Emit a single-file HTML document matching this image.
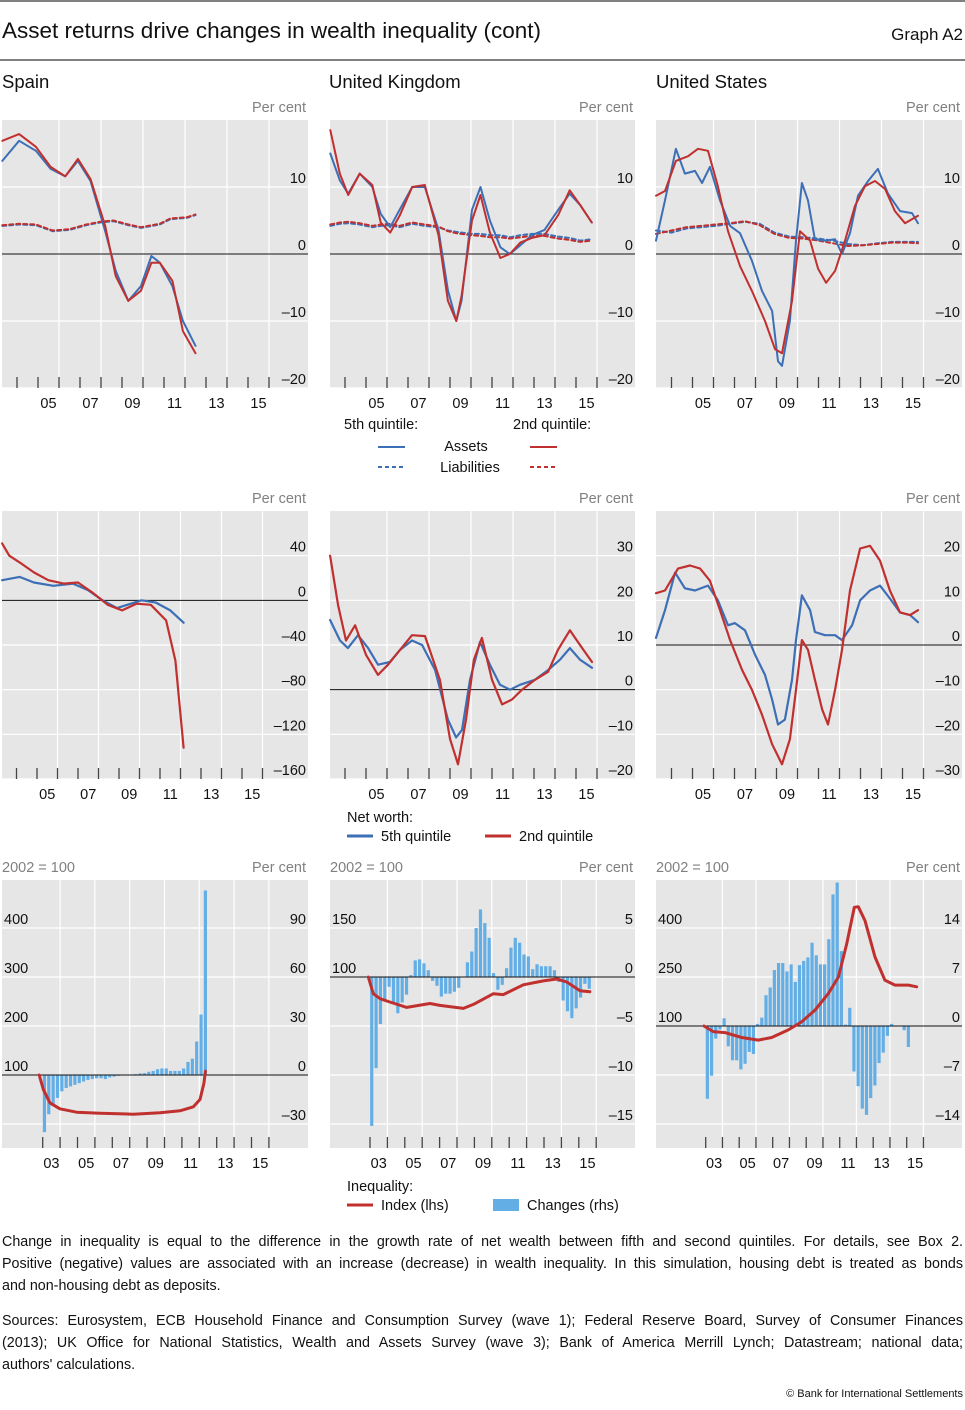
<!DOCTYPE html>
<html><head><meta charset="utf-8">
<style>
html,body{margin:0;padding:0;background:#fff;}
body{width:965px;height:1410px;position:relative;overflow:hidden;font-family:"Liberation Sans",sans-serif;}
svg{position:absolute;left:0;top:0;}
.fn{position:absolute;left:2px;width:961px;font-size:14.3px;color:#111;text-align:justify;text-align-last:justify;white-space:nowrap;}
.fn.last{text-align-last:left;}
</style></head>
<body>
<svg id="chart" width="965" height="1410" viewBox="0 0 965 1410">
  <line x1="0" y1="1" x2="965" y2="1" stroke="#000" stroke-width="1"/>
  <text x="2" y="38" font-size="22.5" fill="#111">Asset returns drive changes in wealth inequality (cont)</text>
  <text x="963" y="40" font-size="17" fill="#111" text-anchor="end">Graph A2</text>
  <line x1="0" y1="60" x2="965" y2="60" stroke="#000" stroke-width="1"/>
  <text x="2" y="88" font-size="18.5" fill="#111">Spain</text>
  <text x="329" y="88" font-size="18.5" fill="#111">United Kingdom</text>
  <text x="656" y="88" font-size="18.5" fill="#111">United States</text>

  <g>
    <text x="344" y="429" font-size="14.5" fill="#111">5th quintile:</text>
    <text x="513" y="429" font-size="14.5" fill="#111">2nd quintile:</text>
    <line x1="378" y1="447" x2="405" y2="447" stroke="#3d6fb6" stroke-width="2"/>
    <line x1="530" y1="447" x2="557" y2="447" stroke="#c0302f" stroke-width="2"/>
    <text x="466" y="451" font-size="14.5" fill="#111" text-anchor="middle">Assets</text>
    <line x1="378" y1="467" x2="405" y2="467" stroke="#3d6fb6" stroke-width="2" stroke-dasharray="4,3"/>
    <line x1="530" y1="467" x2="557" y2="467" stroke="#c0302f" stroke-width="2" stroke-dasharray="4,3"/>
    <text x="470" y="472" font-size="14.5" fill="#111" text-anchor="middle">Liabilities</text>
  </g>
  <g>
    <text x="347" y="822" font-size="14.5" fill="#111">Net worth:</text>
    <line x1="347" y1="836" x2="373" y2="836" stroke="#3d6fb6" stroke-width="3"/>
    <text x="381" y="841" font-size="14.5" fill="#111">5th quintile</text>
    <line x1="485" y1="836" x2="511" y2="836" stroke="#c0302f" stroke-width="3"/>
    <text x="519" y="841" font-size="14.5" fill="#111">2nd quintile</text>
  </g>
  <g>
    <text x="347" y="1191" font-size="14.5" fill="#111">Inequality:</text>
    <line x1="347" y1="1205" x2="373" y2="1205" stroke="#c0302f" stroke-width="3"/>
    <text x="381" y="1210" font-size="14.5" fill="#111">Index (lhs)</text>
    <rect x="493" y="1199" width="26" height="12" fill="#64aee6"/>
    <text x="527" y="1210" font-size="14.5" fill="#111">Changes (rhs)</text>
  </g>
  <text x="963" y="1397" font-size="11" fill="#111" text-anchor="end">© Bank for International Settlements</text>
</svg>

<div class="fn" style="top:1234px">Change in inequality is equal to the difference in the growth rate of net wealth between fifth and second quintiles. For details, see Box 2.</div>
<div class="fn" style="top:1256px">Positive (negative) values are associated with an increase (decrease) in wealth inequality. In this simulation, housing debt is treated as bonds</div>
<div class="fn last" style="top:1278px">and non-housing debt as deposits.</div>
<div class="fn" style="top:1313px">Sources: Eurosystem, ECB Household Finance and Consumption Survey (wave 1); Federal Reserve Board, Survey of Consumer Finances</div>
<div class="fn" style="top:1335px">(2013); UK Office for National Statistics, Wealth and Assets Survey (wave 3); Bank of America Merrill Lynch; Datastream; national data;</div>
<div class="fn last" style="top:1357px">authors' calculations.</div>

<script>
const esAssT = [2003.3,2004.1,2004.9,2005.6,2006.3,2006.9,2007.5,2008.2,2008.7,2009.3,2009.9,2010.4,2010.8,2011.4,2011.9,2012.5];
const esAss5 = [13.9,16.9,15.4,12.7,11.6,13.9,10.9,3.4,-2.5,-7,-4.8,-0.3,-1.3,-4.8,-10,-13.7];
const esAss2 = [16.9,17.9,16,13,11.6,14.2,11.2,4.2,-3.3,-7,-5.5,-1.3,-1.3,-4,-11.5,-14.8];
const esLiaT = [2003.3,2004.1,2004.9,2005.7,2006.5,2007.3,2007.95,2008.6,2009.3,2009.9,2010.8,2011.3,2012.1,2012.5];
const esLia5 = [4.2,4.4,4.3,3.4,3.6,4.3,4.7,4.9,4.3,3.9,4.4,5.2,5.4,5.8];
const esLia2 = [4.3,4.5,4.4,3.5,3.7,4.4,4.8,5.0,4.4,4.0,4.5,5.3,5.5,5.9];

const ukAssT = [2003.3,2003.75,2004.15,2004.7,2005.3,2005.7,2006.15,2006.6,2007.2,2007.8,2008.45,2008.9,2009.3,2009.55,2010.05,2010.45,2010.9,2011.4,2011.85,2012.35,2012.9,2013.5,2014.15,2014.7,2015.2,2015.75];
const ukAss5 = [15,11,9,12,10,6,4,6.6,10,10,3.6,-5.4,-10,-7,6.6,10,5,1,0,1.3,2.8,3.6,6.6,9,7.3,4.7];
const ukAss2 = [18.5,12,8.8,12,10.3,4.7,3.2,5.7,10,10.3,2.8,-7,-10,-6.3,5,8.8,3.2,-0.6,0,1.7,2.4,2.8,5.8,9.5,7.3,4.7];
const ukLia5 = [4.2,4.5,4.6,4.4,4.0,4.2,4.3,4.0,4.5,4.2,4.0,3.5,3.3,3.2,3.0,3.0,2.8,2.8,2.5,2.8,3.0,3.0,2.6,2.4,2.0,2.2];
const ukLia2 = [4.4,4.7,4.8,4.6,4.2,4.4,4.5,4.2,4.7,4.4,4.1,3.4,3.1,3.0,2.8,2.7,2.5,2.5,2.3,2.5,2.7,2.7,2.3,2.1,1.8,2.0];

const usAss5T = [2003.26,2003.69,2004.21,2004.64,2005.12,2005.45,2005.83,2006.31,2006.79,2007.26,2007.83,2008.31,2008.79,2009.07,2009.26,2009.64,2009.93,2010.21,2010.5,2010.83,2011.31,2011.79,2012.12,2012.5,2012.88,2013.36,2013.83,2014.31,2014.88,2015.45,2015.74];
const usAss5 = [2,8,15.7,12,12.4,10.6,13,8,4.2,3.1,-1,-5.5,-8.5,-16,-16.7,-10,2,10.6,8,2.2,2,2.2,0,3.1,8.7,10.9,12.7,9,6.4,6.1,4.6];
const usAss2T = [2003.26,2003.69,2004.21,2004.79,2005.26,2005.74,2006.21,2006.69,2007.26,2007.83,2008.45,2008.93,2009.26,2009.74,2010.12,2010.6,2010.98,2011.36,2011.79,2012.26,2012.74,2013.21,2013.69,2014.17,2014.64,2015.12,2015.74];
const usAss2 = [8.7,9.4,13.9,14.6,15.7,15.4,10.1,3.4,-1.8,-5.5,-10,-14.2,-14.8,-7,3.4,2,-2.2,-4.3,-2.5,2,7.2,10.1,10.9,9.7,6.4,4.6,5.7];
const usLiaT = [2003.26,2004,2004.7,2005.4,2006.1,2006.8,2007.5,2008.2,2008.9,2009.6,2010.3,2011,2011.7,2012.4,2013.1,2013.8,2014.5,2015.2,2015.74];
const usLia5 = [3.5,3.2,3.8,4.0,4.2,4.5,4.8,4.5,3.2,2.6,2.5,2.3,2.0,1.5,1.3,1.6,1.8,1.8,1.8];
const usLia2 = [3.0,3.5,4.0,4.2,4.4,4.6,4.9,4.3,3.0,2.4,2.3,2.0,1.6,1.2,1.3,1.5,1.7,1.7,1.6];

const esNw5T = [2003.3,2004.15,2004.85,2005.8,2006.75,2007.5,2008.2,2008.9,2009.4,2010.1,2010.8,2011.5,2012.15];
const esNw5 = [18,21,16,13,15,9,0,-7,-4,0,-2,-9,-20];
const esNw2T = [2003.3,2003.65,2004.15,2004.85,2005.55,2006.3,2007,2007.7,2008.45,2009.15,2009.85,2010.55,2011.3,2011.75,2012.15];
const esNw2 = [51,40,34,25,18,15,16,7,-4,-9,-3,-4,-18,-54,-132];

const ukNw5T = [2003.29,2003.76,2004.14,2004.62,2005.1,2005.57,2006.14,2006.62,2007.19,2007.67,2008.29,2008.9,2009.29,2009.57,2009.95,2010.43,2010.9,2011.38,2011.86,2012.33,2013.05,2013.67,2014.24,2014.71,2015.19,2015.76];
const ukNw5 = [15.6,11,9.3,12.2,9.3,5.6,6.2,8.9,11,10,4.4,-6.7,-10.7,-9,2.2,10.7,5.6,1.1,0,1.1,2.2,4.4,6.7,9.3,6.7,4.9];
const ukNw2T = [2003.29,2003.67,2004.05,2004.48,2005,2005.57,2006.05,2006.62,2007.19,2007.81,2008.52,2009,2009.38,2009.76,2010.14,2010.52,2011,2011.48,2011.95,2012.43,2013.05,2013.67,2014.14,2014.71,2015.19,2015.76];
const ukNw2 = [30,18.9,11,14.4,7.8,3.3,5.6,8.9,12.2,12,2.2,-11,-16.7,-6.7,6.7,11.6,2.2,-3.3,-2.2,0,2.2,4,8.9,13.3,10,6.2];

const usNw5T = [2003.26,2003.69,2004.17,2004.64,2005.12,2005.74,2006.21,2006.69,2007.02,2007.5,2007.98,2008.45,2008.79,2009.07,2009.4,2009.74,2009.93,2010.21,2010.6,2010.83,2011.31,2011.79,2012.12,2012.6,2012.98,2013.45,2013.93,2014.4,2014.88,2015.36,2015.74];
const usNw5 = [1.6,7.8,16.2,12.7,12.2,13.3,10,4.4,4.9,3.3,-2.2,-6.7,-12.2,-17.8,-16.7,-7.8,1.1,11.1,7.8,2.9,2.2,2.2,1.1,4.4,10,12.2,13.3,10.4,7.3,6.7,5.1];
const usNw2T = [2003.26,2003.69,2004.31,2004.88,2005.36,2005.83,2006.31,2006.79,2007.36,2007.83,2008.31,2008.79,2009.26,2009.64,2009.93,2010.21,2010.5,2010.83,2011.17,2011.45,2011.79,2012.12,2012.5,2012.98,2013.45,2013.93,2014.4,2014.88,2015.36,2015.74];
const usNw2 = [11.6,12.2,17.1,17.8,17.1,14.4,7.8,1.1,-5.6,-10,-15.6,-22.2,-26.7,-21.1,-10,1.1,-1.1,-7.8,-14.4,-17.8,-10,-1.1,12.2,21.6,22.2,18.9,12.2,7.3,6.7,7.8];

const esIdxT = [2002.8,2003.04,2003.42,2003.99,2004.95,2006.29,2008.2,2009.74,2010.89,2011.66,2012.04,2012.27,2012.35];
const esIdx = [100,70,43,31,24,22,20,23,27,35,50,84,108];
const esChgStart = 2003.1;
const esChg = [-35,-24,-19,-14,-10,-8,-7,-6,-5,-4,-3,-2.5,-2,-2,-2.5,-1.5,-1,-0.5,0,0,0,0.5,1,1.2,2,2.5,3.5,4,4,2.5,2.5,2.5,4,8,10,20.5,37,113];

const ukIdxT = [2002.9,2003.19,2003.57,2004.05,2005.11,2006.45,2007.02,2008.36,2008.94,2010.09,2010.66,2011.81,2012.96,2013.73,2014.3,2015.07,2015.64];
const ukIdx = [100,83,78,75,69,73,71,68,72,83,82,92,96,98,95,86,85];
const ukChgStart = 2003.1;
const ukChg = [-15.2,-9.3,-4.8,-2.3,-1,-2.7,-3.7,-2.6,-1.8,0.2,1.7,1.8,1.4,0.7,-0.4,-0.9,-2,-1.7,-1.7,-1.5,-1.1,0,1.5,2.6,5,6.9,5.5,4,0.4,-1.3,-0.8,0.9,3,4,3.5,2.3,2.1,0.8,1.3,1.1,1.1,1.1,0.7,-0.5,-2.4,-3.5,-4.2,-3.2,-2.1,-0.7,-1.2];

const usIdxT = [2002.9,2003.45,2004.15,2005.15,2006.14,2006.94,2007.93,2008.73,2009.53,2010.32,2010.92,2011.42,2011.87,2012.11,2012.51,2013.11,2013.7,2014.3,2015.1,2015.6];
const usIdx = [100,83,80,65,57,65,88,113,149,199,250,351,463,465,422,311,240,225,225,220];
const usChgStart = 2003.1;
const usChg = [-10.4,-7.1,-1.8,-0.5,1.1,-2.9,-4.9,-4.9,-6.2,-5.4,-3.7,-4,0.3,1.2,4.4,5.5,8,9,9,7.8,8.8,6.3,8.7,9.3,9.8,11.9,10.1,8.8,8.8,12.4,18.8,20.5,10.7,0.2,2.6,-6.5,-8.6,-11.8,-12.7,-10.3,-8.5,-5.3,-3.8,-1.4,0.3,0,0,-0.6,-3];

const row1Ticks = [10,0,-10,-20];
const esRow2Ticks = [40,0,-40,-80,-120,-160];
const ukRow2Ticks = [30,20,10,0,-10,-20];
const usRow2Ticks = [20,10,0,-10,-20,-30];
const esRow3Right = [90,60,30,0,-30];
const esRow3Left = [400,300,200,100];
const ukRow3Right = [5,0,-5,-10,-15];
const ukRow3Left = [150,100];
const usRow3Right = [14,7,0,-7,-14];
const usRow3Left = [400,250,100];
const yearLabelsA = [2005,2007,2009,2011,2013,2015];
const yearLabelsB = [2003,2005,2007,2009,2011,2013,2015];

const NS = 'http://www.w3.org/2000/svg';
const svg = document.getElementById('chart');
const BLUE = '#3d6fb6', RED = '#c0302f', BAR = '#64aee6';

function el(tag, attrs, parent) {
  const e = document.createElementNS(NS, tag);
  for (const k in attrs) e.setAttribute(k, attrs[k]);
  (parent || svg).appendChild(e);
  return e;
}
function fmt(v) { return v < 0 ? '\u2013' + Math.abs(v) : String(v); }

function makePanel(p) {
  const g = el('g', {});
  
  
  p.g = g;
  p.X = t => p.x0 + (t - p.yr0) * p.ppy;
  p.Y = v => p.B - (v - p.min) / (p.max - p.min) * (p.B - p.T);
  if (p.lmin !== undefined) p.YL = v => p.B - (v - p.lmin) / (p.lmax - p.lmin) * (p.B - p.T);
  const bg = el('rect', {x: p.L, y: p.T, width: p.R - p.L, height: p.B - p.T, fill: '#e6e6e6'}, g);
  
  
  for (let y = p.gridFrom; y <= 2016; y += 2) {
    const x = p.X(y);
    if (x <= p.L || x >= p.R) continue;
    const gl = el('line', {x1: x, x2: x, y1: p.T, y2: p.B, stroke: '#fff', 'stroke-width': 1.2}, g);
    
    
  }
  p.ticks.forEach(v => {
    const y = p.Y(v);
    if (v !== 0) {
      const hl = el('line', {x1: p.L, x2: p.R, y1: y, y2: y, stroke: '#fff', 'stroke-width': 1.2}, g);
      
      
    }
    const tx = el('text', {x: p.R - 2, y: y - 4, 'font-size': 14.5, fill: '#111', 'text-anchor': 'end'}, g);
    tx.textContent = fmt(v);
    
    
  });
  if (p.lticks) p.lticks.forEach(v => {
    const tx = el('text', {x: p.L + 2, y: p.YL(v) - 4, 'font-size': 14.5, fill: '#111'}, g);
    tx.textContent = String(v);
    
    
  });
  for (let y = p.tickFrom; y <= 2016; y++) {
    const x = p.X(y);
    const tk = el('line', {x1: x, x2: x, y1: p.B - 11, y2: p.B, stroke: '#444', 'stroke-width': 1.3}, g);
    
    
  }
  p.xlabels.forEach(yr => {
    const tx = el('text', {x: p.X(yr + 0.5), y: p.B + 20, 'font-size': 14.5, fill: '#111', 'text-anchor': 'middle'}, g);
    tx.textContent = String(yr % 100).padStart(2, '0');
    
    
  });
  const pc = el('text', {x: p.R - 2, y: p.T - 8, 'font-size': 14.5, fill: '#808080', 'text-anchor': 'end'}, g);
  pc.textContent = 'Per cent';
  
  
  if (p.lticks) {
    const lb = el('text', {x: p.L, y: p.T - 8, 'font-size': 14.5, fill: '#808080'}, g);
    lb.textContent = '2002 = 100';
    
    
  }
  return p;
}
function zeroLine(p) {
  const z = el('line', {x1: p.L, x2: p.R, y1: p.Y(0), y2: p.Y(0), stroke: '#111', 'stroke-width': 1}, p.g);
  
  
}
function series(p, ts, vs, color, w, dash, name, left) {
  const yf = left ? p.YL : p.Y;
  const d = ts.map((t, i) => (i ? 'L' : 'M') + p.X(t).toFixed(1) + ',' + yf(vs[i]).toFixed(1)).join(' ');
  const path = el('path', {d: d, fill: 'none', stroke: color, 'stroke-width': w, 'stroke-linejoin': 'round', 'stroke-linecap': 'round'}, p.g);
  if (dash) path.setAttribute('stroke-dasharray', dash);
  
  
}
function bars(p, start, vals, name) {
  vals.forEach((v, i) => {
    const x = p.X(start + i * 0.25);
    const y0 = p.Y(0), y1 = p.Y(v);
    const r = el('rect', {x: x - 1.6, y: Math.min(y0, y1), width: 3.2, height: Math.abs(y1 - y0), fill: BAR}, p.g);
    
    
  });
}

const p1 = makePanel({name: 'spain-returns-panel', L: 2, R: 308, T: 120, B: 388, yr0: 2005, x0: 38, ppy: 21, min: -20, max: 20, ticks: row1Ticks, gridFrom: 2006, tickFrom: 2004, xlabels: yearLabelsA});
const p2 = makePanel({name: 'uk-returns-panel', L: 330, R: 635, T: 120, B: 388, yr0: 2005, x0: 366, ppy: 21, min: -20, max: 20, ticks: row1Ticks, gridFrom: 2006, tickFrom: 2004, xlabels: yearLabelsA});
const p3 = makePanel({name: 'us-returns-panel', L: 656, R: 962, T: 120, B: 388, yr0: 2005, x0: 692.5, ppy: 21, min: -20, max: 20, ticks: row1Ticks, gridFrom: 2006, tickFrom: 2004, xlabels: yearLabelsA});
[p1, p2, p3].forEach(zeroLine);
series(p1, esLiaT, esLia5, BLUE, 2, '4,3', 'spain-liabilities-5th');
series(p1, esLiaT, esLia2, RED, 2, '4,3', 'spain-liabilities-2nd');
series(p1, esAssT, esAss5, BLUE, 2, null, 'spain-assets-5th');
series(p1, esAssT, esAss2, RED, 2, null, 'spain-assets-2nd');
series(p2, ukAssT, ukLia5, BLUE, 2, '4,3', 'uk-liabilities-5th');
series(p2, ukAssT, ukLia2, RED, 2, '4,3', 'uk-liabilities-2nd');
series(p2, ukAssT, ukAss5, BLUE, 2, null, 'uk-assets-5th');
series(p2, ukAssT, ukAss2, RED, 2, null, 'uk-assets-2nd');
series(p3, usLiaT, usLia5, BLUE, 2, '4,3', 'us-liabilities-5th');
series(p3, usLiaT, usLia2, RED, 2, '4,3', 'us-liabilities-2nd');
series(p3, usAss5T, usAss5, BLUE, 2, null, 'us-assets-5th');
series(p3, usAss2T, usAss2, RED, 2, null, 'us-assets-2nd');

const q1 = makePanel({name: 'spain-net-worth-panel', L: 2, R: 308, T: 511, B: 779, yr0: 2005, x0: 37, ppy: 20.5, min: -160, max: 80, ticks: esRow2Ticks, gridFrom: 2006, tickFrom: 2004, xlabels: yearLabelsA});
const q2 = makePanel({name: 'uk-net-worth-panel', L: 330, R: 635, T: 511, B: 779, yr0: 2005, x0: 366, ppy: 21, min: -20, max: 40, ticks: ukRow2Ticks, gridFrom: 2006, tickFrom: 2004, xlabels: yearLabelsA});
const q3 = makePanel({name: 'us-net-worth-panel', L: 656, R: 962, T: 511, B: 779, yr0: 2005, x0: 692.5, ppy: 21, min: -30, max: 30, ticks: usRow2Ticks, gridFrom: 2006, tickFrom: 2004, xlabels: yearLabelsA});
[q1, q2, q3].forEach(zeroLine);
series(q1, esNw5T, esNw5, BLUE, 2.2, null, 'spain-net-worth-5th');
series(q1, esNw2T, esNw2, RED, 2.2, null, 'spain-net-worth-2nd');
series(q2, ukNw5T, ukNw5, BLUE, 2.2, null, 'uk-net-worth-5th');
series(q2, ukNw2T, ukNw2, RED, 2.2, null, 'uk-net-worth-2nd');
series(q3, usNw5T, usNw5, BLUE, 2.2, null, 'us-net-worth-5th');
series(q3, usNw2T, usNw2, RED, 2.2, null, 'us-net-worth-2nd');

const r1 = makePanel({name: 'spain-inequality-panel', L: 2, R: 308, T: 880, B: 1148, yr0: 2003, x0: 42.7, ppy: 17.4, min: -44.7, max: 119.4, lmin: -49, lmax: 498, ticks: esRow3Right, lticks: esRow3Left, gridFrom: 2004, tickFrom: 2003, xlabels: yearLabelsB});
const r2 = makePanel({name: 'uk-inequality-panel', L: 330, R: 635, T: 880, B: 1148, yr0: 2003, x0: 370, ppy: 17.4, min: -17.45, max: 9.9, lmin: -74.5, lmax: 199, ticks: ukRow3Right, lticks: ukRow3Left, gridFrom: 2004, tickFrom: 2003, xlabels: yearLabelsB});
const r3 = makePanel({name: 'us-inequality-panel', L: 656, R: 962, T: 880, B: 1148, yr0: 2003, x0: 705.7, ppy: 16.75, min: -17.43, max: 20.86, lmin: -273, lmax: 546.5, ticks: usRow3Right, lticks: usRow3Left, gridFrom: 2004, tickFrom: 2003, xlabels: yearLabelsB});
bars(r1, esChgStart, esChg, 'spain-change-bar');
bars(r2, ukChgStart, ukChg, 'uk-change-bar');
bars(r3, usChgStart, usChg, 'us-change-bar');
[r1, r2, r3].forEach(zeroLine);
series(r1, esIdxT, esIdx, RED, 3, null, 'spain-inequality-index', true);
series(r2, ukIdxT, ukIdx, RED, 3, null, 'uk-inequality-index', true);
series(r3, usIdxT, usIdx, RED, 3, null, 'us-inequality-index', true);
</script>
</body></html>
